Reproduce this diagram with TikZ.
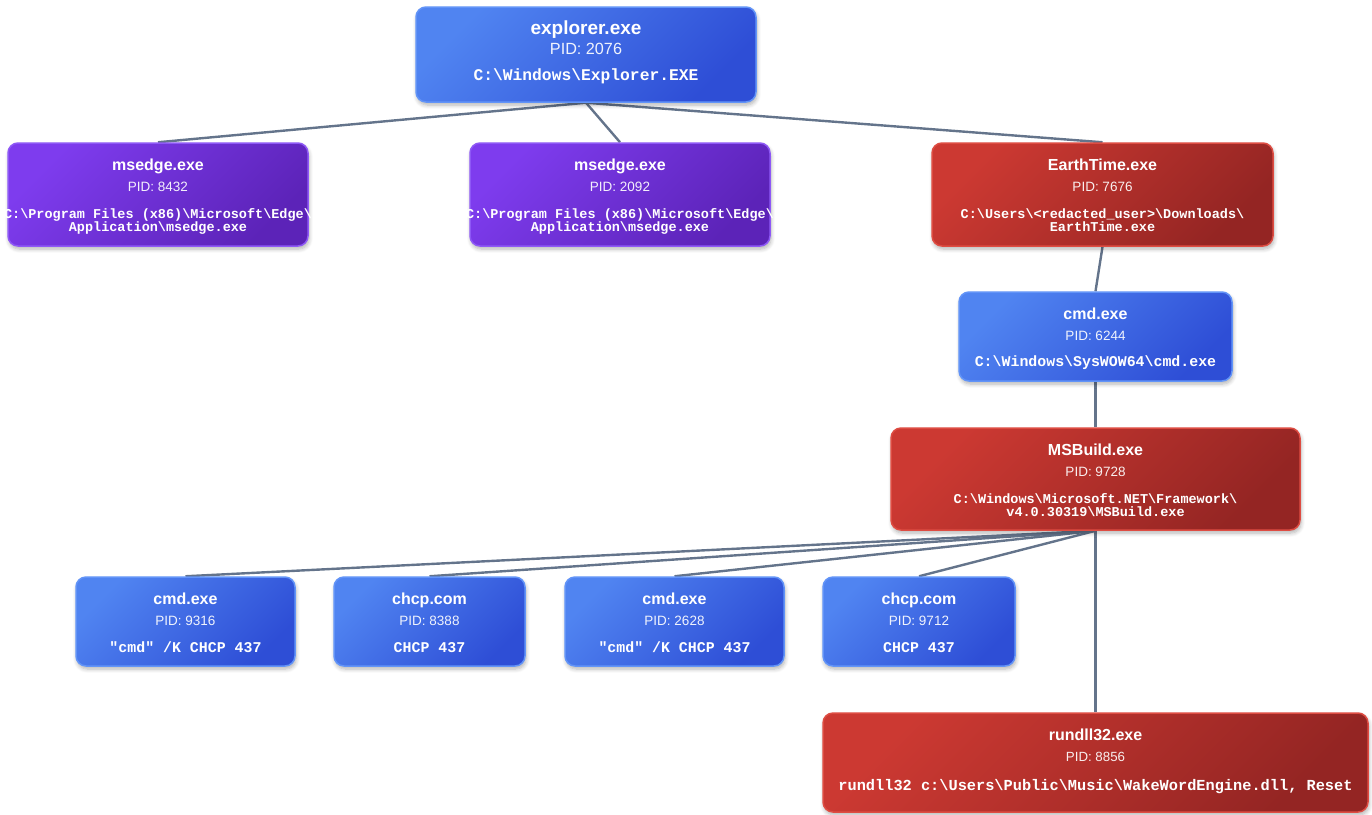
\documentclass[tikz,border=0pt]{standalone}
\usepackage{fontspec}
\setmainfont{Liberation Sans}
\setmonofont{Liberation Mono}
\usetikzlibrary{shadows.blur}

\pgfdeclarelayer{background}
\pgfsetlayers{background,main}

\definecolor{blueA}{RGB}{80,132,241}
\definecolor{blueB}{RGB}{46,78,214}
\definecolor{blueL}{RGB}{98,148,248}
\definecolor{purA}{RGB}{126,60,238}
\definecolor{purB}{RGB}{92,35,184}
\definecolor{purL}{RGB}{142,88,246}
\definecolor{redA}{RGB}{204,57,50}
\definecolor{redB}{RGB}{148,37,35}
\definecolor{redL}{RGB}{222,76,66}
\definecolor{edgegray}{RGB}{100,116,139}

\newcommand\pbs{\textbackslash}

\tikzset{
  proc/.style={rectangle, rounded corners=10pt, line width=1.5pt, inner sep=0pt,
    blur shadow={shadow xshift=1pt, shadow yshift=-3pt, shadow blur radius=4pt,
                 shadow opacity=30, shadow blur steps=6}},
  bluebox/.style={proc, draw=blueL, top color=blueA, bottom color=blueB, shading angle=45},
  purbox/.style={proc, draw=purL, top color=purA, bottom color=purB, shading angle=45},
  redbox/.style={proc, draw=redL, top color=redA, bottom color=redB, shading angle=45},
  ttl/.style={anchor=base, text=white, inner sep=0pt, font=\fontsize{16}{18}\selectfont\bfseries},
  pidt/.style={anchor=base, text=white, text opacity=0.92, inner sep=0pt, font=\fontsize{13.5}{15}\selectfont},
  pth/.style={anchor=base, text=white, inner sep=0pt, font=\ttfamily\bfseries\fontsize{#1}{#1}\selectfont},
  pth/.default=13.5,
  link/.style={draw=edgegray, line width=2.4pt},
}

\begin{document}
\begin{tikzpicture}[x=1pt, y=-1pt]
\useasboundingbox (0,0) rectangle (1372,814);

% ---------- root ----------
\node[bluebox, minimum width=340pt, minimum height=95pt] (explorer) at (586,54.5) {};
\node[ttl, font=\fontsize{19}{21}\selectfont\bfseries] (explorer-t) at ([yshift=-28pt]explorer.north) {explorer.exe};
\node[pidt, font=\fontsize{16.2}{18}\selectfont] (explorer-p) at ([yshift=-48pt]explorer.north) {PID: 2076};
\node[pth=16.3] (explorer-c) at ([yshift=-74pt]explorer.north) {C:\pbs Windows\pbs Explorer.EXE};

% ---------- second level ----------
\node[purbox, minimum width=300pt, minimum height=103pt] (edge1) at (158,194.5) {};
\node[ttl] (edge1-t) at ([yshift=-28.3pt]edge1.north) {msedge.exe};
\node[pidt] (edge1-p) at ([yshift=-49pt]edge1.north) {PID: 8432};
\node[pth] (edge1-c1) at ([yshift=-75.8pt]edge1.north) {C:\pbs Program Files (x86)\pbs Microsoft\pbs Edge\pbs};
\node[pth] (edge1-c2) at ([yshift=-89pt]edge1.north) {Application\pbs msedge.exe};

\node[purbox, minimum width=300pt, minimum height=103pt] (edge2) at (620,194.5) {};
\node[ttl] (edge2-t) at ([yshift=-28.3pt]edge2.north) {msedge.exe};
\node[pidt] (edge2-p) at ([yshift=-49pt]edge2.north) {PID: 2092};
\node[pth] (edge2-c1) at ([yshift=-75.8pt]edge2.north) {C:\pbs Program Files (x86)\pbs Microsoft\pbs Edge\pbs};
\node[pth] (edge2-c2) at ([yshift=-89pt]edge2.north) {Application\pbs msedge.exe};

\node[redbox, minimum width=341pt, minimum height=103pt] (earth) at (1102.5,194.5) {};
\node[ttl] (earth-t) at ([yshift=-28.3pt]earth.north) {EarthTime.exe};
\node[pidt] (earth-p) at ([yshift=-49pt]earth.north) {PID: 7676};
\node[pth] (earth-c1) at ([yshift=-75.8pt]earth.north) {C:\pbs Users\pbs <redacted\_user>\pbs Downloads\pbs};
\node[pth] (earth-c2) at ([yshift=-89pt]earth.north) {EarthTime.exe};

% ---------- chain under EarthTime ----------
\node[bluebox, minimum width=273pt, minimum height=89pt] (cmdA) at (1095.5,336.5) {};
\node[ttl] (cmdA-t) at ([yshift=-28.5pt]cmdA.north) {cmd.exe};
\node[pidt] (cmdA-p) at ([yshift=-49.5pt]cmdA.north) {PID: 6244};
\node[pth=14.9] (cmdA-c) at ([yshift=-75pt]cmdA.north) {C:\pbs Windows\pbs SysWOW64\pbs cmd.exe};

\node[redbox, minimum width=409pt, minimum height=102pt] (msb) at (1095.5,479) {};
\node[ttl] (msb-t) at ([yshift=-28.3pt]msb.north) {MSBuild.exe};
\node[pidt] (msb-p) at ([yshift=-49pt]msb.north) {PID: 9728};
\node[pth] (msb-c1) at ([yshift=-76pt]msb.north) {C:\pbs Windows\pbs Microsoft.NET\pbs Framework\pbs};
\node[pth] (msb-c2) at ([yshift=-89pt]msb.north) {v4.0.30319\pbs MSBuild.exe};

% ---------- children of MSBuild ----------
\node[bluebox, minimum width=219pt, minimum height=89pt] (cmdB) at (185.5,621.5) {};
\node[ttl] (cmdB-t) at ([yshift=-28.6pt]cmdB.north) {cmd.exe};
\node[pidt] (cmdB-p) at ([yshift=-49.6pt]cmdB.north) {PID: 9316};
\node[pth=14.9] (cmdB-c) at ([yshift=-76.2pt]cmdB.north) {"cmd" /K CHCP 437};

\node[bluebox, minimum width=191pt, minimum height=89pt] (chcpA) at (429.5,621.5) {};
\node[ttl] (chcpA-t) at ([yshift=-28.6pt]chcpA.north) {chcp.com};
\node[pidt] (chcpA-p) at ([yshift=-49.6pt]chcpA.north) {PID: 8388};
\node[pth=14.9] (chcpA-c) at ([yshift=-76.2pt]chcpA.north) {CHCP 437};

\node[bluebox, minimum width=219pt, minimum height=89pt] (cmdC) at (674.5,621.5) {};
\node[ttl] (cmdC-t) at ([yshift=-28.6pt]cmdC.north) {cmd.exe};
\node[pidt] (cmdC-p) at ([yshift=-49.6pt]cmdC.north) {PID: 2628};
\node[pth=14.9] (cmdC-c) at ([yshift=-76.2pt]cmdC.north) {"cmd" /K CHCP 437};

\node[bluebox, minimum width=192pt, minimum height=89pt] (chcpB) at (919,621.5) {};
\node[ttl] (chcpB-t) at ([yshift=-28.6pt]chcpB.north) {chcp.com};
\node[pidt] (chcpB-p) at ([yshift=-49.6pt]chcpB.north) {PID: 9712};
\node[pth=14.9] (chcpB-c) at ([yshift=-76.2pt]chcpB.north) {CHCP 437};

\node[redbox, minimum width=545pt, minimum height=99pt] (rundll) at (1095.5,762.5) {};
\node[ttl] (rundll-t) at ([yshift=-28.7pt]rundll.north) {rundll32.exe};
\node[pidt, font=\fontsize{13.3}{15}\selectfont] (rundll-p) at ([yshift=-49.3pt]rundll.north) {PID: 8856};
\node[pth=15.3] (rundll-c) at ([yshift=-78pt]rundll.north) {rundll32 c:\pbs Users\pbs Public\pbs Music\pbs WakeWordEngine.dll, Reset};

% ---------- parent/child links ----------
\begin{pgfonlayer}{background}
\draw[link] (explorer.south) -- (edge1.north);
\draw[link] (explorer.south) -- (edge2.north);
\draw[link] (explorer.south) -- (earth.north);
\draw[link] (earth.south) -- (cmdA.north);
\draw[link] (cmdA.south) -- (msb.north);
\draw[link] (msb.south) -- (cmdB.north);
\draw[link] (msb.south) -- (chcpA.north);
\draw[link] (msb.south) -- (cmdC.north);
\draw[link] (msb.south) -- (chcpB.north);
\draw[link] (msb.south) -- (rundll.north);
\end{pgfonlayer}
\end{tikzpicture}
\end{document}
